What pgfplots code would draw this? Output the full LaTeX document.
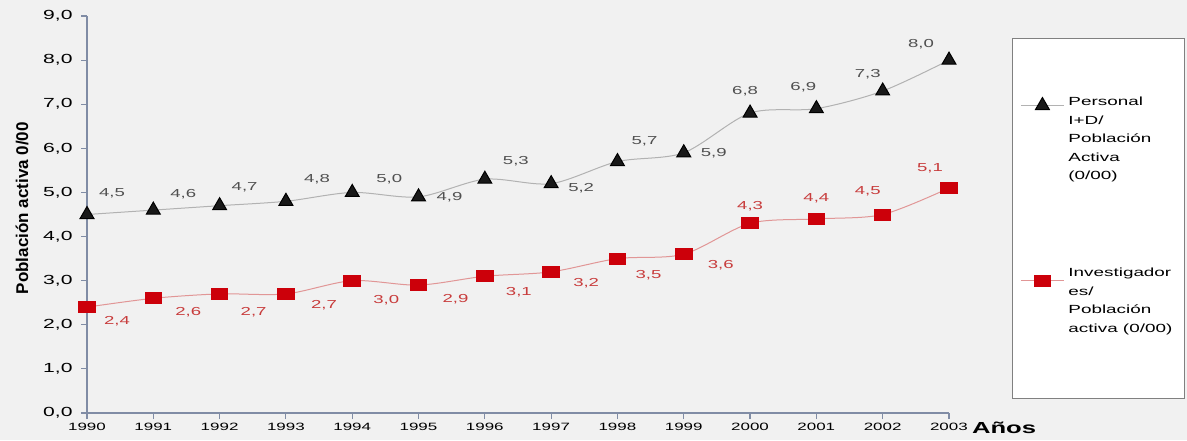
\documentclass[border=0pt]{standalone}
\usepackage{pgfplots}
\pgfplotsset{compat=1.18}
\usepackage{pgfplotstable}
\usepackage{graphicx}
\usepackage{fontspec}
\setmainfont{Liberation Sans}

\definecolor{bgcol}{RGB}{241,241,241}
\definecolor{axiscol}{RGB}{128,140,165}
\definecolor{redmark}{RGB}{204,0,10}
\definecolor{redline}{RGB}{225,150,150}
\definecolor{redtext}{RGB}{200,60,60}
\definecolor{graytext}{RGB}{80,80,80}

% x  y  label offsets (pt)
\pgfplotstableread{
x    y    dx    dy
1990 4.5  12.5  10.5
1991 4.6  15    8
1992 4.7  12.5  9
1993 4.8  15.5  11
1994 5.0  18.5  6.5
1995 4.9  15.5  0
1996 5.3  15.5  9
1997 5.2  15    -2.5
1998 5.7  13.5  10
1999 5.9  15    0
2000 6.8  -2.5  11
2001 6.9  -6.5  10.5
2002 7.3  -7.5  8.5
2003 8.0  -14   8
}\personal

\pgfplotstableread{
x    y    dx    dy
1990 2.4  15    -7
1991 2.6  17.5  -7
1992 2.7  17    -9
1993 2.7  19    -5.5
1994 3.0  17    -10
1995 2.9  18.5  -7
1996 3.1  17    -8
1997 3.2  17.5  -5.5
1998 3.5  15.5  -8.5
1999 3.6  18.5  -5.5
2000 4.3  0     8.5
2001 4.4  0     10.5
2002 4.5  -7.5  11.5
2003 5.1  -9.5  10
}\investig

\newcommand{\sx}[1]{\scalebox{1.6}[1]{#1}}

\begin{document}
\begin{tikzpicture}
\fill[bgcol] (-43.5pt,-13.5pt) rectangle (550pt,206.5pt);
\begin{axis}[
    scale only axis,
    width=431pt, height=198.5pt,
    xmin=1990, xmax=2003, ymin=0, ymax=9,
    axis lines=left,
    axis line style={-, axiscol, line width=0.6pt},
    tick style={axiscol, line width=0.6pt},
    tick align=outside,
    xtick={1990,...,2003},
    ytick={0,1,...,9},
    major tick length=3pt,
    clip=false,
    /pgf/number format/assume math mode=true,
    xticklabel={\sx{\pgfmathprintnumber[fixed,precision=0,1000 sep={}]{\tick}}},
    yticklabel={\sx{\pgfmathprintnumber[fixed,fixed zerofill,precision=1,use comma]{\tick}}},
    xticklabel style={font=\fontsize{5.3}{6}\selectfont, color=black, inner sep=0pt, yshift=-2pt},
    yticklabel style={font=\fontsize{6.6}{7}\selectfont, color=black, inner sep=0pt, xshift=-4pt},
    ylabel={Población activa 0/00},
    ylabel style={font=\fontsize{8.5}{9}\selectfont\bfseries, at={(axis description cs:-0.0754,0.516)}, anchor=center, rotate=0},
    xlabel={\scalebox{1.6}[1]{Años}},
    xlabel style={font=\fontsize{8}{9}\selectfont\bfseries, at={(axis description cs:1.0186,0)}, anchor=west, yshift=-7.5pt},
    nodes near coords={\sx{\pgfmathprintnumber[fixed,fixed zerofill,precision=1,use comma]{\pgfplotspointmeta}}},
    visualization depends on={\thisrow{dx} \as \dx},
    visualization depends on={\thisrow{dy} \as \dy},
    legend style={at={(axis description cs:1.073,0.9446)}, anchor=north west,
        draw=gray, fill=white, line width=0.5pt,
        font=\fontsize{5.9}{9.3}\selectfont,
        inner xsep=4pt, inner ysep=2.5pt, row sep=0pt,
        /tikz/every even column/.append style={column sep=2pt}},
    legend cell align=left,
    legend image code/.code={\draw[#1,mark repeat=2,mark phase=2] plot coordinates {(0pt,0pt) (10.75pt,0pt) (21.5pt,0pt)};},
]
\addplot[smooth, tension=0.5, color=gray!60, line width=0.5pt,
    mark=triangle*, mark size=4pt, mark options={fill=black!90, draw=black, solid},
    nodes near coords style={font=\fontsize{5.8}{6}\selectfont, text=graytext, anchor=center, xshift=\dx pt, yshift=\dy pt}]
    table[x=x, y=y] {\personal};
\addlegendentry[text height=29pt, text depth=29pt]{\sx{\begin{tabular}[t]{@{}l@{}}Personal\\I+D/\\Población\\Activa\\(0/00)\end{tabular}}}
\addplot[smooth, tension=0.5, color=redline, line width=0.5pt,
    mark=square*, mark size=2.75pt, mark options={fill=redmark, draw=redmark, xscale=1.5, solid},
    nodes near coords style={font=\fontsize{5.8}{6}\selectfont, text=redtext, anchor=center, xshift=\dx pt, yshift=\dy pt}]
    table[x=x, y=y] {\investig};
\addlegendentry[text height=52.5pt, text depth=56.5pt]{\sx{\begin{tabular}[t]{@{}l@{}}Investigador\\es/\\Población\\activa (0/00)\end{tabular}}}
\end{axis}
\pgfresetboundingbox
\path[use as bounding box] (-43.5pt,-13.5pt) rectangle (550pt,206.5pt);
\end{tikzpicture}
\end{document}
